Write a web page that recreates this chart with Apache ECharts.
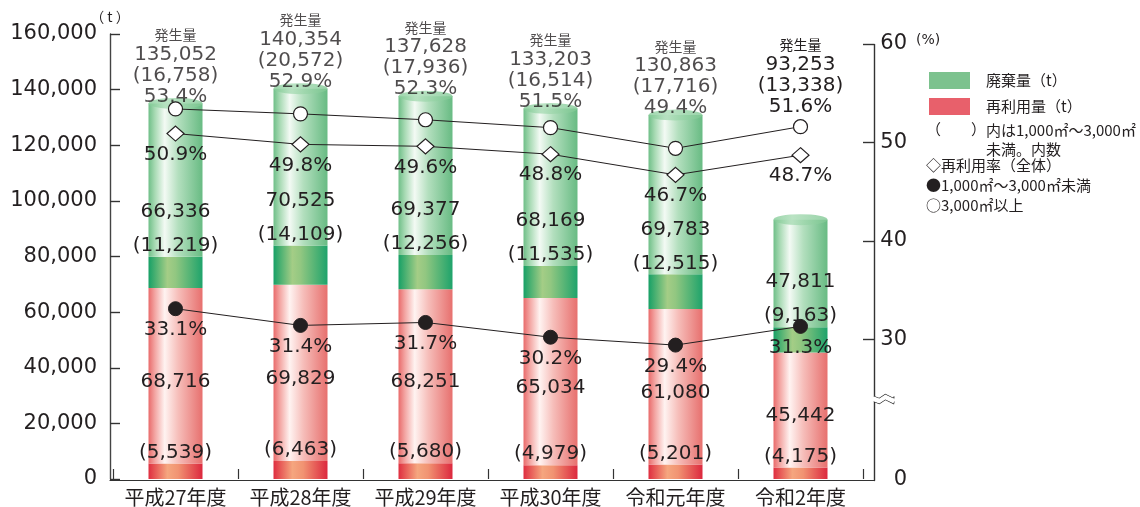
<!DOCTYPE html>
<html><head><meta charset="utf-8">
<script src="https://cdn.jsdelivr.net/npm/echarts@6/dist/echarts.min.js"></script>
<style>html,body{margin:0;padding:0;background:#fff}#c{width:1140px;height:507px}</style>
</head><body><div id="c"></div>
<script>
// ---- data ----
const categories = ['平成27年度','平成28年度','平成29年度','平成30年度','令和元年度','令和2年度'];
const reuseTotal = [68716, 69829, 68251, 65034, 61080, 45442];   // 再利用量
const reuseSmall = [5539, 6463, 5680, 4979, 5201, 4175];         // うち1,000㎡～3,000㎡未満
const wasteTotal = [66336, 70525, 69377, 68169, 69783, 47811];   // 廃棄量
const wasteSmall = [11219, 14109, 12256, 11535, 12515, 9163];    // うち1,000㎡～3,000㎡未満
const genTotal = [135052, 140354, 137628, 133203, 130863, 93253]; // 発生量
const genSmall = [16758, 20572, 17936, 16514, 17716, 13338];
const rateAll = [50.9, 49.8, 49.6, 48.8, 46.7, 48.7];   // 再利用率（全体）
const rateSmall = [33.1, 31.4, 31.7, 30.2, 29.4, 31.3]; // 1,000㎡～3,000㎡未満
const rateLarge = [53.4, 52.9, 52.3, 51.5, 49.4, 51.6]; // 3,000㎡以上
const rightTickLabels = [0, 30, 40, 50, 60];
const rightTicks = [30, 40, 50, 60];

// ---- helpers ----
const NUM = 'DejaVu Sans';
const CJK = 'Noto Sans CJK JP';
const TXT = '#231f20';
const fmt = v => v.toLocaleString('en-US');
const G = echarts.graphic.LinearGradient;
const grad = stops => new G(0, 0, 1, 0, stops.map(s => ({offset: s[0], color: s[1]})));

const lightRed = grad([[0,'#e96b6b'],[0.12,'#f3a6a3'],[0.3,'#fff3f1'],[0.55,'#f6beba'],[1,'#e7706e']]);
const darkRed = grad([[0,'#df2e40'],[0.35,'#f5a67f'],[0.55,'#f19372'],[1,'#dc283e']]);
const lightGreen = grad([[0,'#6fbf88'],[0.12,'#a8dab4'],[0.3,'#f3faf4'],[0.55,'#b3dfbe'],[1,'#68bb83']]);
const darkGreen = grad([[0,'#17a066'],[0.35,'#a4cd86'],[0.5,'#92c781'],[1,'#1ea36b']]);
const topGreen = grad([[0,'#84cb97'],[0.35,'#a9dcb5'],[1,'#80c894']]);

const blockLabel = i => `{h|発生量}\n{n|${fmt(genTotal[i])}}\n{n|(${fmt(genSmall[i])})}\n{n|${rateLarge[i].toFixed(1)}%}`;
const blockRich = {
  h: {fontSize: 14, fontFamily: CJK, lineHeight: 18, color: TXT},
  n: {fontSize: 20, fontFamily: NUM, lineHeight: 21, color: TXT}
};

const breakCfg = [{start: 8, end: 24.2, gap: '1.15%'}];

function buildOption(onPoint) {
  return {
    animation: false,
    backgroundColor: '#fff',
    textStyle: {fontFamily: NUM, color: TXT},
    legend: {
      left: 929, top: 72, orient: 'vertical', padding: 0,
      itemWidth: 41, itemHeight: 17, itemGap: 9, icon: 'rect',
      textStyle: {fontSize: 15, fontFamily: CJK, color: TXT, padding: [0, 0, 0, 11]},
      data: [
        {name: '廃棄量（t）', itemStyle: {color: '#7cc28e'}},
        {name: '再利用量（t）', itemStyle: {color: '#e8606b'}}
      ]
    },
    grid: [
      {left: 113, right: 277, top: 34, bottom: 27},
      {left: 113, right: 277, top: 44, bottom: 27},
      {left: 874, width: 20, top: 44, bottom: 27},
      {left: 110, right: 266, top: 34, bottom: 27}
    ],
    xAxis: [
      {gridIndex: 0, type: 'category', data: categories,
        axisLine: {show: false},
        axisTick: {show: true, inside: true, interval: 0, length: 10, lineStyle: {color: '#333', width: 1.2}},
        axisLabel: {interval: 0, fontSize: 20, fontFamily: CJK, color: TXT, margin: 8}},
      {gridIndex: 1, type: 'category', data: categories, show: false},
      {gridIndex: 2, type: 'value', show: false},
      {gridIndex: 3, type: 'value', min: 0, max: 1,
        axisLine: {show: true, lineStyle: {color: '#333', width: 1.2}},
        axisTick: {show: false}, axisLabel: {show: false}, splitLine: {show: false}}
    ],
    yAxis: [
      {gridIndex: 0, type: 'value', min: 0, max: 160000, interval: 20000, offset: 3,
        name: '（ t ）', nameLocation: 'end', nameGap: 9,
        nameTextStyle: {fontSize: 14, fontFamily: CJK, color: TXT},
        axisLine: {show: true, lineStyle: {color: '#444', width: 1.4}},
        axisTick: {show: true, inside: true, length: 10, lineStyle: {color: '#333', width: 1.4}},
        axisLabel: {fontSize: 21, fontFamily: NUM, color: TXT, margin: 13, formatter: v => fmt(v)},
        splitLine: {show: false}},
      {gridIndex: 1, type: 'value', min: 0, max: 60, show: false, breaks: breakCfg,
        breakArea: {show: false}, splitLine: {show: false}},
      {gridIndex: 2, type: 'value', min: 0, max: 60, position: 'left', breaks: breakCfg,
        breakArea: {show: true, zigzagAmplitude: 2, zigzagMinSpan: 5, zigzagMaxSpan: 9,
          itemStyle: {color: '#fff', borderColor: '#222', borderWidth: 1.2, borderType: 'solid', opacity: 1}},
        name: '(%)', nameLocation: 'end', nameGap: 4,
        nameTextStyle: {fontSize: 14, fontFamily: NUM, color: TXT, align: 'left', verticalAlign: 'middle', padding: [0, 0, 0, 42]},
        axisLine: {show: true, lineStyle: {color: '#333', width: 1.4}},
        axisTick: {show: true, inside: false, length: 11, customValues: rightTicks, lineStyle: {color: '#333', width: 1.4}},
        axisLabel: {inside: true, align: 'right', margin: 33, fontSize: 21, fontFamily: NUM, color: TXT, customValues: rightTickLabels},
        splitLine: {show: false}},
      {gridIndex: 3, type: 'value', show: false}
    ],
    series: [
      {name: '再利用量（1,000㎡～3,000㎡未満）', type: 'bar', stack: 'a', xAxisIndex: 0, yAxisIndex: 0,
        barWidth: 54, data: reuseSmall, itemStyle: {color: darkRed},
        label: {show: true, position: 'top', distance: 0, fontSize: 20, fontFamily: NUM, color: TXT, lineHeight: 22,
          formatter: p => `(${fmt(reuseSmall[p.dataIndex])})`}},
      {name: '再利用量（t）', type: 'bar', stack: 'a', xAxisIndex: 0, yAxisIndex: 0,
        barWidth: 54, data: reuseTotal.map((v, i) => v - reuseSmall[i]), itemStyle: {color: lightRed},
        label: {show: true, position: 'inside', offset: [0, 6], fontSize: 20, fontFamily: NUM, color: TXT,
          formatter: p => fmt(reuseTotal[p.dataIndex])}},
      {name: '廃棄量（1,000㎡～3,000㎡未満）', type: 'bar', stack: 'a', xAxisIndex: 0, yAxisIndex: 0,
        barWidth: 54, data: wasteSmall, itemStyle: {color: darkGreen},
        label: {show: true, position: 'top', distance: 0,
          formatter: p => `{a|${fmt(wasteTotal[p.dataIndex])}}\n{b|(${fmt(wasteSmall[p.dataIndex])})}`,
          rich: {a: {fontSize: 20, fontFamily: NUM, color: TXT, lineHeight: 46},
                 b: {fontSize: 20, fontFamily: NUM, color: TXT, lineHeight: 22}}}},
      {name: '廃棄量（t）', type: 'bar', stack: 'a', xAxisIndex: 0, yAxisIndex: 0,
        barWidth: 54, data: wasteTotal.map((v, i) => v - wasteSmall[i]), itemStyle: {color: lightGreen}},
      {name: '発生量', type: 'scatter', xAxisIndex: 0, yAxisIndex: 0, z: 3,
        symbol: 'circle', symbolSize: [54, 11], itemStyle: {color: topGreen},
        data: genTotal.map((v, i) => ({value: v, label: {show: !onPoint[i]}})),
        label: {position: 'top', distance: 0, offset: [0, 9], formatter: p => blockLabel(p.dataIndex), rich: blockRich}},
      {name: '再利用率（全体）', type: 'line', xAxisIndex: 1, yAxisIndex: 1, z: 6,
        data: rateAll, symbol: 'diamond', symbolSize: [17, 15],
        lineStyle: {color: TXT, width: 1}, itemStyle: {color: '#fff', borderColor: TXT, borderWidth: 1.2},
        label: {show: true, position: 'bottom', distance: 3, fontSize: 20, fontFamily: NUM, color: TXT,
          formatter: p => rateAll[p.dataIndex].toFixed(1) + '%'}},
      {name: '1,000㎡～3,000㎡未満', type: 'line', xAxisIndex: 1, yAxisIndex: 1, z: 6,
        data: rateSmall, symbol: 'circle', symbolSize: 14,
        lineStyle: {color: TXT, width: 1}, itemStyle: {color: TXT, borderColor: TXT, borderWidth: 1},
        label: {show: true, position: 'bottom', distance: 4, fontSize: 20, fontFamily: NUM, color: TXT,
          formatter: p => rateSmall[p.dataIndex].toFixed(1) + '%'}},
      {name: '3,000㎡以上', type: 'line', xAxisIndex: 1, yAxisIndex: 1, z: 6,
        data: rateLarge.map((v, i) => ({value: v, label: {show: onPoint[i]}})), symbol: 'circle', symbolSize: 14,
        lineStyle: {color: TXT, width: 1}, itemStyle: {color: '#fff', borderColor: TXT, borderWidth: 1.2},
        label: {position: 'top', distance: 2, formatter: p => blockLabel(p.dataIndex), rich: blockRich}}
    ],
    graphic: [
      {type: 'text', left: 926, top: 122, style: {text: '（　　）', fontSize: 15, fontFamily: CJK, fill: TXT}},
      {type: 'text', left: 986, top: 121, style: {text: '内は1,000㎡～3,000㎡\n未満。内数', fontSize: 15, lineHeight: 19, fontFamily: CJK, fill: TXT}},
      {type: 'text', left: 926, top: 158, style: {text: '◇再利用率（全体）', fontSize: 15, fontFamily: CJK, fill: TXT}},
      {type: 'text', left: 926, top: 178, style: {text: '●1,000㎡～3,000㎡未満', fontSize: 15, fontFamily: CJK, fill: TXT}},
      {type: 'text', left: 926, top: 198, style: {text: '○3,000㎡以上', fontSize: 15, fontFamily: CJK, fill: TXT}}
    ]
  };
}

const chart = echarts.init(document.getElementById('c'), null, {renderer: 'canvas'});
chart.setOption(buildOption(genTotal.map(() => false)));
// place the 発生量 block at the bar top, unless the 3,000㎡以上 point sits well above the bar
const onPoint = genTotal.map((t, i) => {
  const yBar = chart.convertToPixel({yAxisIndex: 0}, t);
  const yPt = chart.convertToPixel({yAxisIndex: 1}, rateLarge[i]);
  return yPt < yBar - 30;
});
chart.setOption(buildOption(onPoint), true);
</script></body></html>
